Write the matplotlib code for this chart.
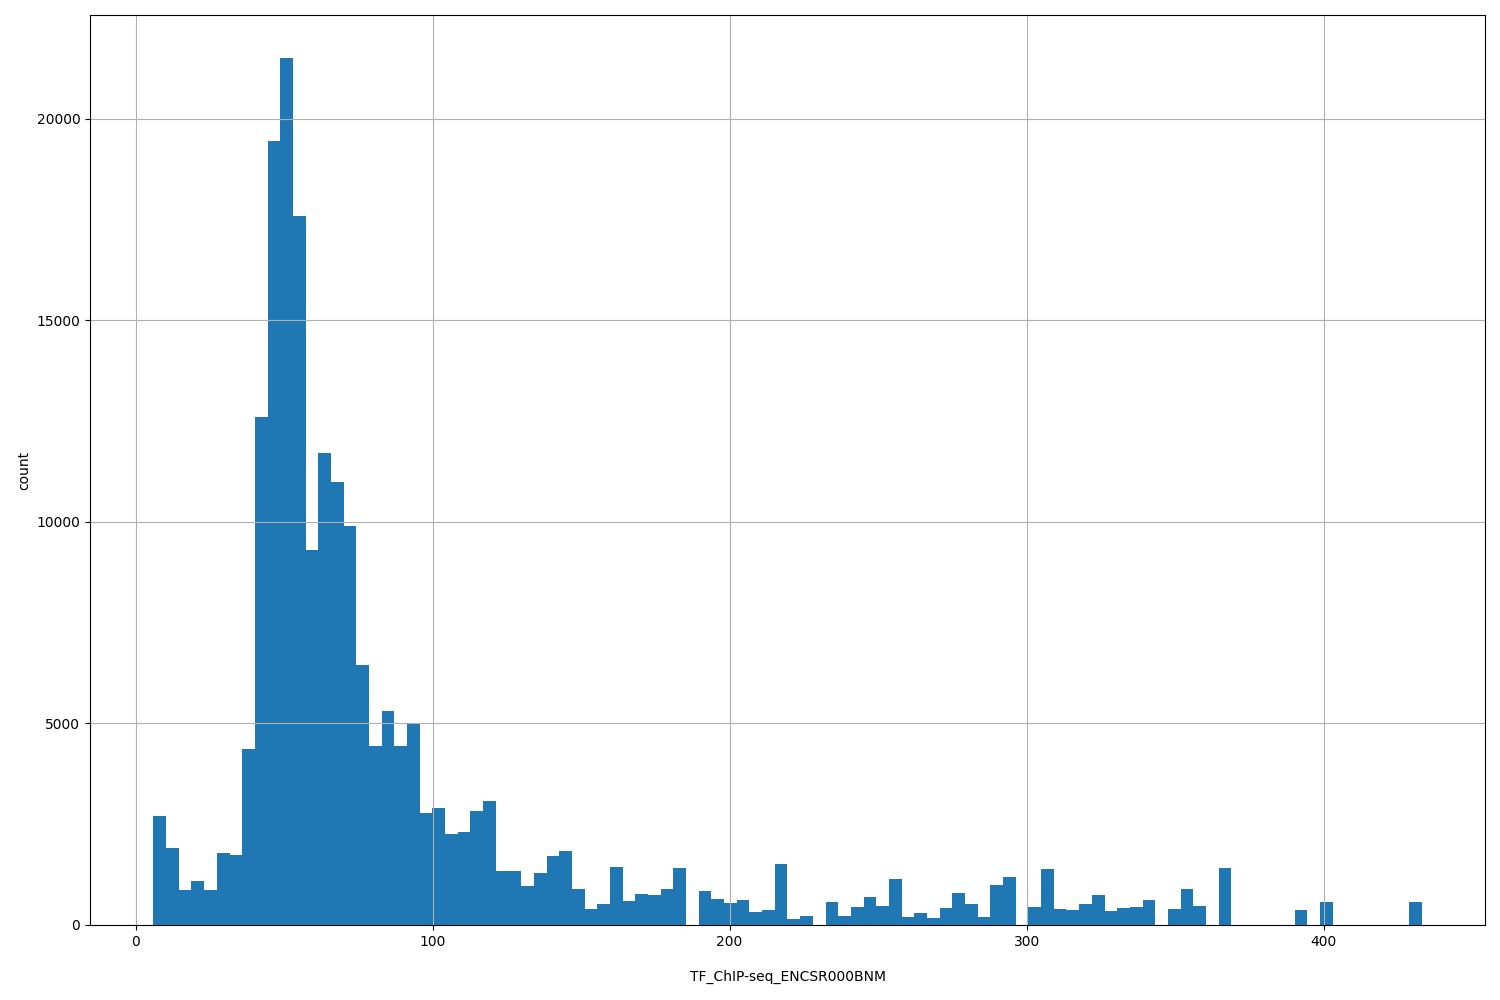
import matplotlib
matplotlib.use("Agg")
import matplotlib.pyplot as plt
import numpy as np

# histogram range, 100 equal bins
bin_start = 6.0
bin_end = 433.0
counts = [
    2700, 1920, 880, 1100, 870, 1780, 1730, 4370, 12600, 19450,
    21500, 17600, 9300, 11700, 11000, 9900, 6450, 4450, 5300, 4450,
    4980, 2780, 2900, 2250, 2300, 2830, 3080, 1330, 1330, 970,
    1280, 1720, 1830, 900, 400, 520, 1450, 600, 780, 750,
    900, 1420, 0, 850, 650, 540, 620, 330, 380, 1520,
    150, 230, 0, 580, 230, 450, 700, 470, 1150, 200,
    300, 180, 430, 800, 520, 200, 980, 1200, 0, 450,
    1400, 400, 380, 530, 750, 350, 420, 450, 620, 0,
    400, 900, 480, 0, 1420, 0, 0, 0, 0, 0,
    360, 0, 560, 0, 0, 0, 0, 0, 0, 560,
]

edges = np.linspace(bin_start, bin_end, len(counts) + 1)

fig, ax = plt.subplots(figsize=(15, 10), dpi=100)
ax.hist(edges[:-1], bins=edges, weights=counts, color="#1f77b4")
ax.grid(True)
ax.set_xlabel("TF_ChIP-seq_ENCSR000BNM", labelpad=15)
ax.set_ylabel("count")
fig.subplots_adjust(left=0.06, right=0.99, top=0.985, bottom=0.075)
fig.savefig("out.png")
